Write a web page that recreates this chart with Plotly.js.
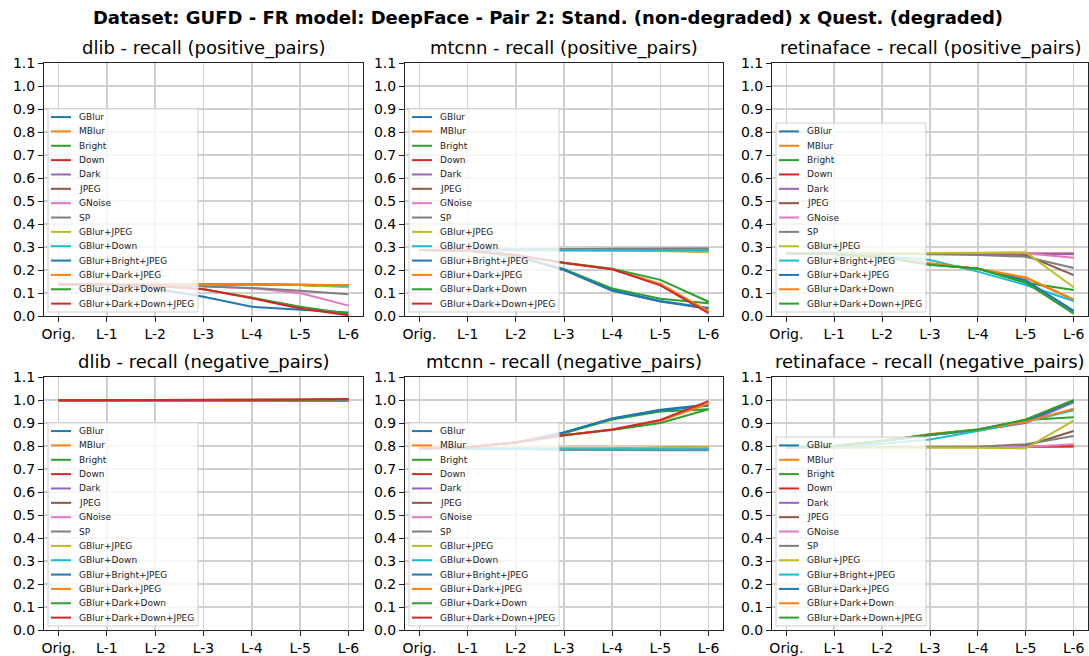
<!DOCTYPE html>
<html><head><meta charset="utf-8">
<script src="https://cdn.plot.ly/plotly-3.0.1.min.js"></script>
<style>html,body{margin:0;padding:0;background:#fff}</style>
</head><body>
<div id="chart" style="width:1089px;height:656px"></div>
<script>
// ---------------- data ----------------
const levels = ['Orig.', 'L-1', 'L-2', 'L-3', 'L-4', 'L-5', 'L-6'];

const names14 = ['GBlur', 'MBlur', 'Bright', 'Down', 'Dark', 'JPEG', 'GNoise', 'SP',
  'GBlur+JPEG', 'GBlur+Down', 'GBlur+Bright+JPEG', 'GBlur+Dark+JPEG',
  'GBlur+Dark+Down', 'GBlur+Dark+Down+JPEG'];
const names13 = ['GBlur', 'MBlur', 'Bright', 'Down', 'Dark', 'JPEG', 'GNoise', 'SP',
  'GBlur+JPEG', 'GBlur+Bright+JPEG', 'GBlur+Dark+JPEG',
  'GBlur+Dark+Down', 'GBlur+Dark+Down+JPEG'];

const palette = ['#1f77b4', '#ff7f0e', '#2ca02c', '#d62728', '#9467bd',
  '#8c564b', '#e377c2', '#7f7f7f', '#bcbd22', '#17becf'];

// dlib - recall (positive_pairs), one row per series (names14 order)
const dlibPositive = [
  [0.138, 0.138, 0.137, 0.136, 0.135, 0.135, 0.130],
  [0.138, 0.138, 0.138, 0.137, 0.137, 0.137, 0.135],
  [0.138, 0.138, 0.137, 0.136, 0.136, 0.135, 0.132],
  [0.138, 0.138, 0.137, 0.136, 0.136, 0.135, 0.132],
  [0.138, 0.138, 0.137, 0.136, 0.136, 0.135, 0.133],
  [0.138, 0.138, 0.137, 0.136, 0.136, 0.135, 0.130],
  [0.138, 0.138, 0.135, 0.130, 0.120, 0.100, 0.045],
  [0.138, 0.138, 0.135, 0.128, 0.122, 0.110, 0.095],
  [0.138, 0.138, 0.138, 0.137, 0.137, 0.135, 0.125],
  [0.138, 0.138, 0.138, 0.137, 0.137, 0.137, 0.132],
  [0.138, 0.135, 0.120, 0.084, 0.040, 0.026, 0.015],
  [0.138, 0.138, 0.138, 0.138, 0.138, 0.138, 0.137],
  [0.138, 0.137, 0.130, 0.116, 0.080, 0.040, 0.010],
  [0.138, 0.137, 0.130, 0.116, 0.077, 0.033, 0.003]
];

// mtcnn - recall (positive_pairs)
const mtcnnPositive = [
  [0.287, 0.285, 0.260, 0.203, 0.113, 0.065, 0.035],
  [0.287, 0.287, 0.287, 0.287, 0.288, 0.288, 0.288],
  [0.287, 0.285, 0.260, 0.203, 0.120, 0.075, 0.055],
  [0.287, 0.287, 0.287, 0.287, 0.287, 0.288, 0.287],
  [0.287, 0.287, 0.288, 0.289, 0.290, 0.291, 0.292],
  [0.287, 0.287, 0.288, 0.289, 0.290, 0.291, 0.291],
  [0.287, 0.287, 0.288, 0.289, 0.290, 0.291, 0.291],
  [0.287, 0.287, 0.288, 0.290, 0.292, 0.293, 0.294],
  [0.287, 0.287, 0.286, 0.285, 0.284, 0.283, 0.277],
  [0.287, 0.287, 0.286, 0.285, 0.286, 0.287, 0.285],
  [0.287, 0.285, 0.260, 0.200, 0.110, 0.063, 0.032],
  [0.287, 0.285, 0.265, 0.232, 0.203, 0.140, 0.020],
  [0.287, 0.285, 0.265, 0.232, 0.205, 0.157, 0.062],
  [0.287, 0.285, 0.265, 0.230, 0.203, 0.133, 0.012]
];

// retinaface - recall (positive_pairs), names13 order
const retinaPositive = [
  [0.272, 0.270, 0.255, 0.225, 0.205, 0.155, 0.020],
  [0.272, 0.270, 0.255, 0.228, 0.205, 0.165, 0.070],
  [0.272, 0.270, 0.255, 0.225, 0.205, 0.145, 0.113],
  [0.272, 0.272, 0.272, 0.272, 0.272, 0.272, 0.272],
  [0.272, 0.272, 0.272, 0.272, 0.271, 0.270, 0.268],
  [0.272, 0.272, 0.272, 0.272, 0.270, 0.265, 0.178],
  [0.272, 0.272, 0.272, 0.273, 0.273, 0.273, 0.253],
  [0.272, 0.272, 0.270, 0.268, 0.265, 0.258, 0.209],
  [0.272, 0.272, 0.273, 0.275, 0.275, 0.277, 0.125],
  [0.272, 0.270, 0.260, 0.243, 0.193, 0.135, 0.065],
  [0.272, 0.270, 0.255, 0.225, 0.205, 0.155, 0.022],
  [0.272, 0.270, 0.255, 0.228, 0.205, 0.168, 0.072],
  [0.272, 0.270, 0.255, 0.222, 0.207, 0.145, 0.010]
];

// dlib - recall (negative_pairs)
const dlibNegative = [
  [0.999, 0.999, 0.999, 0.999, 0.999, 0.999, 0.999],
  [0.999, 0.999, 0.999, 0.999, 0.999, 0.999, 0.999],
  [0.999, 0.999, 0.999, 0.999, 0.999, 0.999, 0.999],
  [0.999, 0.999, 0.999, 0.999, 0.999, 0.999, 0.999],
  [0.999, 0.999, 0.999, 0.999, 0.999, 0.999, 0.999],
  [0.999, 0.999, 0.999, 0.999, 0.999, 0.999, 0.999],
  [0.999, 0.999, 0.999, 0.999, 0.999, 0.999, 0.999],
  [0.999, 0.999, 0.999, 0.999, 0.999, 0.999, 0.999],
  [0.999, 0.999, 0.999, 0.999, 0.999, 0.999, 0.998],
  [0.999, 0.999, 0.999, 0.999, 0.999, 0.998, 0.996],
  [0.999, 0.999, 0.999, 0.999, 0.999, 0.999, 0.999],
  [0.999, 0.999, 0.999, 0.999, 1.000, 1.001, 1.002],
  [0.999, 0.999, 0.999, 0.999, 1.000, 1.001, 1.003],
  [0.999, 0.999, 0.999, 0.999, 1.000, 1.002, 1.004]
];

// mtcnn - recall (negative_pairs)
const mtcnnNegative = [
  [0.790, 0.795, 0.815, 0.859, 0.920, 0.958, 0.980],
  [0.790, 0.790, 0.788, 0.786, 0.787, 0.788, 0.790],
  [0.790, 0.795, 0.815, 0.855, 0.915, 0.950, 0.960],
  [0.790, 0.790, 0.788, 0.786, 0.786, 0.786, 0.786],
  [0.790, 0.790, 0.788, 0.786, 0.786, 0.786, 0.786],
  [0.790, 0.790, 0.789, 0.787, 0.789, 0.792, 0.796],
  [0.790, 0.790, 0.788, 0.786, 0.786, 0.786, 0.786],
  [0.790, 0.790, 0.787, 0.784, 0.782, 0.782, 0.782],
  [0.790, 0.790, 0.789, 0.788, 0.790, 0.792, 0.796],
  [0.790, 0.790, 0.787, 0.786, 0.786, 0.786, 0.786],
  [0.790, 0.795, 0.815, 0.859, 0.920, 0.955, 0.975],
  [0.790, 0.795, 0.815, 0.847, 0.872, 0.910, 0.985],
  [0.790, 0.795, 0.815, 0.847, 0.870, 0.900, 0.960],
  [0.790, 0.795, 0.815, 0.847, 0.872, 0.913, 0.995]
];

// retinaface - recall (negative_pairs), names13 order
const retinaNegative = [
  [0.795, 0.800, 0.822, 0.848, 0.870, 0.905, 0.993],
  [0.795, 0.795, 0.795, 0.795, 0.795, 0.795, 0.796],
  [0.795, 0.800, 0.822, 0.848, 0.870, 0.913, 0.925],
  [0.795, 0.795, 0.795, 0.795, 0.795, 0.797, 0.800],
  [0.795, 0.800, 0.822, 0.848, 0.868, 0.900, 0.990],
  [0.795, 0.795, 0.795, 0.795, 0.796, 0.800, 0.865],
  [0.795, 0.795, 0.795, 0.795, 0.795, 0.796, 0.808],
  [0.795, 0.795, 0.795, 0.795, 0.797, 0.808, 0.843],
  [0.795, 0.795, 0.793, 0.792, 0.792, 0.790, 0.910],
  [0.795, 0.797, 0.810, 0.828, 0.865, 0.905, 0.955],
  [0.795, 0.800, 0.822, 0.850, 0.872, 0.910, 0.995],
  [0.795, 0.800, 0.822, 0.852, 0.872, 0.905, 0.962],
  [0.795, 0.800, 0.822, 0.850, 0.872, 0.915, 1.000]
];

const mainTitle = 'Dataset: GUFD - FR model: DeepFace - Pair 2: Stand. (non-degraded) x Quest. (degraded)';
const panelTitles = [
  'dlib - recall (positive_pairs)', 'mtcnn - recall (positive_pairs)', 'retinaface - recall (positive_pairs)',
  'dlib - recall (negative_pairs)', 'mtcnn - recall (negative_pairs)', 'retinaface - recall (negative_pairs)'
];
const yTicks = [0, 0.1, 0.2, 0.3, 0.4, 0.5, 0.6, 0.7, 0.8, 0.9, 1.0, 1.1];

// ---------------- layout geometry (pixels) ----------------
const W = 1089, H = 656;
const cols = [{l: 44, r: 363}, {l: 405, r: 723}, {l: 772, r: 1088}];
const rows = [{t: 63, b: 316, title: 48}, {t: 377, b: 630, title: 362}];
const px = v => v / W;
const py = v => 1 - v / H;

const panels = [
  {data: dlibPositive, names: names14, r: 0, c: 0},
  {data: mtcnnPositive, names: names14, r: 0, c: 1},
  {data: retinaPositive, names: names13, r: 0, c: 2},
  {data: dlibNegative, names: names14, r: 1, c: 0},
  {data: mtcnnNegative, names: names14, r: 1, c: 1},
  {data: retinaNegative, names: names13, r: 1, c: 2}
];

const FONT = 'DejaVu Sans, Arial, sans-serif';
const traces = [];
const layout = {
  width: W, height: H,
  margin: {l: 0, r: 0, t: 0, b: 0},
  paper_bgcolor: '#ffffff', plot_bgcolor: '#ffffff',
  showlegend: false,
  font: {family: FONT, color: '#000'},
  title: {
    text: '<b>' + mainTitle + '</b>',
    x: px(548), xanchor: 'center', xref: 'paper',
    y: py(18), yanchor: 'middle', yref: 'paper',
    font: {family: FONT, size: 18, color: '#000'}
  },
  shapes: [], annotations: []
};

panels.forEach((p, k) => {
  const idx = k === 0 ? '' : String(k + 1);
  const col = cols[p.c], row = rows[p.r];
  layout['xaxis' + idx] = {
    domain: [px(col.l), px(col.r)],
    anchor: 'y' + idx,
    type: 'category', categoryorder: 'array', categoryarray: levels,
    range: [-0.3, 6.3],
    showline: true, mirror: true, linecolor: '#222', linewidth: 1,
    showgrid: true, gridcolor: '#cfcfcf', gridwidth: 1.5,
    ticks: 'outside', ticklen: 5, tickcolor: '#222', tickwidth: 1,
    tickfont: {family: FONT, size: 14, color: '#000'},
    zeroline: false, fixedrange: true
  };
  layout['yaxis' + idx] = {
    domain: [py(row.b), py(row.t)],
    anchor: 'x' + idx,
    range: [0, 1.1],
    tickmode: 'array', tickvals: yTicks, ticktext: yTicks.map(v => v.toFixed(1)),
    showline: true, mirror: true, linecolor: '#222', linewidth: 1,
    showgrid: true, gridcolor: '#cfcfcf', gridwidth: 1.5,
    ticks: 'outside', ticklen: 5, tickcolor: '#222', tickwidth: 1,
    tickfont: {family: FONT, size: 14, color: '#000'},
    zeroline: false, fixedrange: true
  };
  p.data.forEach((vals, i) => {
    traces.push({
      type: 'scatter', mode: 'lines',
      x: levels, y: vals, name: p.names[i],
      xaxis: 'x' + idx, yaxis: 'y' + idx,
      line: {color: palette[i % palette.length], width: 2},
      hoverinfo: 'skip', showlegend: false
    });
  });
  // panel title
  layout.annotations.push({
    text: panelTitles[k], xref: 'paper', yref: 'paper',
    x: px((col.l + col.r) / 2), y: py(row.title),
    xanchor: 'center', yanchor: 'middle', showarrow: false,
    font: {family: FONT, size: 18, color: '#000'}
  });
  // legend box (matplotlib-style, lower left)
  const n = p.names.length, rowH = 14.35;
  const boxL = col.l + 4, boxW = 150;
  const boxB = row.b - 4, boxT = boxB - (n * rowH + 2.4);
  layout.shapes.push({
    type: 'rect', xref: 'paper', yref: 'paper', layer: 'above',
    x0: px(boxL), x1: px(boxL + boxW), y0: py(boxB), y1: py(boxT),
    fillcolor: 'rgba(255,255,255,0.8)', line: {color: '#d0d0d0', width: 1}
  });
  p.names.forEach((nm, i) => {
    const cy = boxT + 1.2 + rowH * (i + 0.5);
    layout.shapes.push({
      type: 'line', xref: 'paper', yref: 'paper', layer: 'above',
      x0: px(boxL + 3), x1: px(boxL + 23), y0: py(cy), y1: py(cy),
      line: {color: palette[i % palette.length], width: 2}
    });
    layout.annotations.push({
      text: nm, xref: 'paper', yref: 'paper',
      x: px(boxL + 29), y: py(cy), xanchor: 'left', yanchor: 'middle',
      showarrow: false, font: {family: FONT, size: 9, color: '#222'}
    });
  });
});

Plotly.newPlot('chart', traces, layout, {staticPlot: true, displayModeBar: false});
</script>
</body></html>
